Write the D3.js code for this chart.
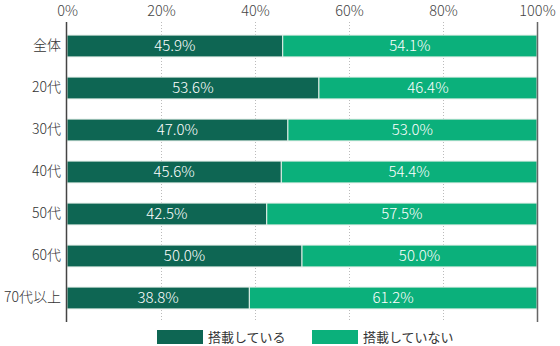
<!DOCTYPE html>
<html><head><meta charset="utf-8">
<script src="https://cdn.jsdelivr.net/npm/d3@7"></script>
<style>
body{margin:0;background:#fff;}
svg{display:block;font-family:"Noto Sans CJK JP","Noto Sans",sans-serif;}
</style></head>
<body><svg id="c" width="560" height="346"></svg>
<script>
const categories = ["全体","20代","30代","40代","50代","60代","70代以上"];
const withSeries = [45.9,53.6,47.0,45.6,42.5,50.0,38.8];
const withoutSeries = [54.1,46.4,53.0,54.4,57.5,50.0,61.2];
const seriesNames = ["搭載している","搭載していない"];
const tickValues = [0,20,40,60,80,100];
const colors = ["#0e6653","#0bb07b"];

const svg = d3.select("#c");
const x = d3.scaleLinear().domain([0,100]).range([67,537]);
const y = d3.scaleBand().domain(categories).range([25,319]).paddingInner(0.48).paddingOuter(0.24);

// gridlines
svg.append("g").selectAll("line").data(tickValues.filter(d=>d>0&&d<100)).join("line")
  .attr("x1",d=>x(d)+0.5).attr("x2",d=>x(d)+0.5).attr("y1",22).attr("y2",321)
  .attr("stroke","#bbb").attr("stroke-width",1).attr("stroke-dasharray","1,2");

// top axis labels
const ax = d3.axisTop(x).tickValues(tickValues).tickFormat(d=>d+"%").tickSize(0).tickPadding(0);
const gax = svg.append("g").attr("transform","translate(0,17)").call(ax);
gax.select(".domain").remove();
gax.selectAll("text").attr("font-size",14.5).attr("fill","#444").attr("dy","-0.05em")
  .attr("font-weight",300)
  .attr("font-family","'Noto Sans CJK JP',sans-serif");

const rows = categories.map((c,i)=>({c, a:withSeries[i], b:withoutSeries[i]}));

const g = svg.append("g");
g.selectAll("rect.a").data(rows).join("rect").attr("class","a")
  .attr("x",x(0)).attr("y",d=>y(d.c)).attr("width",d=>x(d.a)-x(0)).attr("height",y.bandwidth())
  .attr("fill",colors[0]).attr("stroke","#e6efe9").attr("stroke-width",1);
g.selectAll("rect.b").data(rows).join("rect").attr("class","b")
  .attr("x",d=>x(d.a)).attr("y",d=>y(d.c)).attr("width",d=>x(d.a+d.b)-x(d.a)).attr("height",y.bandwidth())
  .attr("fill",colors[1]).attr("stroke","#e6efe9").attr("stroke-width",1);

g.selectAll("text.la").data(rows).join("text").attr("class","la")
  .attr("x",d=>(x(0)+x(d.a))/2).attr("y",d=>y(d.c)+y.bandwidth()/2).attr("dy","0.36em")
  .attr("text-anchor","middle").attr("fill","#fff").attr("font-size",15).attr("font-weight",300)
  .text(d=>d.a.toFixed(1)+"%");
g.selectAll("text.lb").data(rows).join("text").attr("class","lb")
  .attr("x",d=>(x(d.a)+x(d.a+d.b))/2).attr("y",d=>y(d.c)+y.bandwidth()/2).attr("dy","0.36em")
  .attr("text-anchor","middle").attr("fill","#fff").attr("font-size",15).attr("font-weight",300)
  .text(d=>d.b.toFixed(1)+"%");

// category labels
const ay = d3.axisLeft(y).tickSize(0).tickPadding(6);
const gay = svg.append("g").attr("transform",`translate(${x(0)},0)`).call(ay);
gay.select(".domain").remove();
gay.selectAll("text").attr("font-size",14).attr("fill","#333").attr("font-weight",300)
  .attr("font-family","'Noto Sans CJK JP',sans-serif");

// axis lines
svg.append("line").attr("x1",x(0)-0.5).attr("x2",x(0)-0.5).attr("y1",22).attr("y2",322)
  .attr("stroke","#444").attr("stroke-width",1.5);
svg.append("line").attr("x1",x(100)+0.5).attr("x2",x(100)+0.5).attr("y1",22).attr("y2",322)
  .attr("stroke","#666").attr("stroke-width",1.5);

// legend
const legX = [157,312];
const lg = svg.append("g");
seriesNames.forEach((n,i)=>{
  lg.append("rect").attr("x",legX[i]).attr("y",330).attr("width",46).attr("height",14).attr("fill",colors[i]);
  lg.append("text").attr("x",legX[i]+51).attr("y",337).attr("dy","0.36em").attr("font-size",13)
    .attr("fill","#333").text(n);
});
</script></body></html>
